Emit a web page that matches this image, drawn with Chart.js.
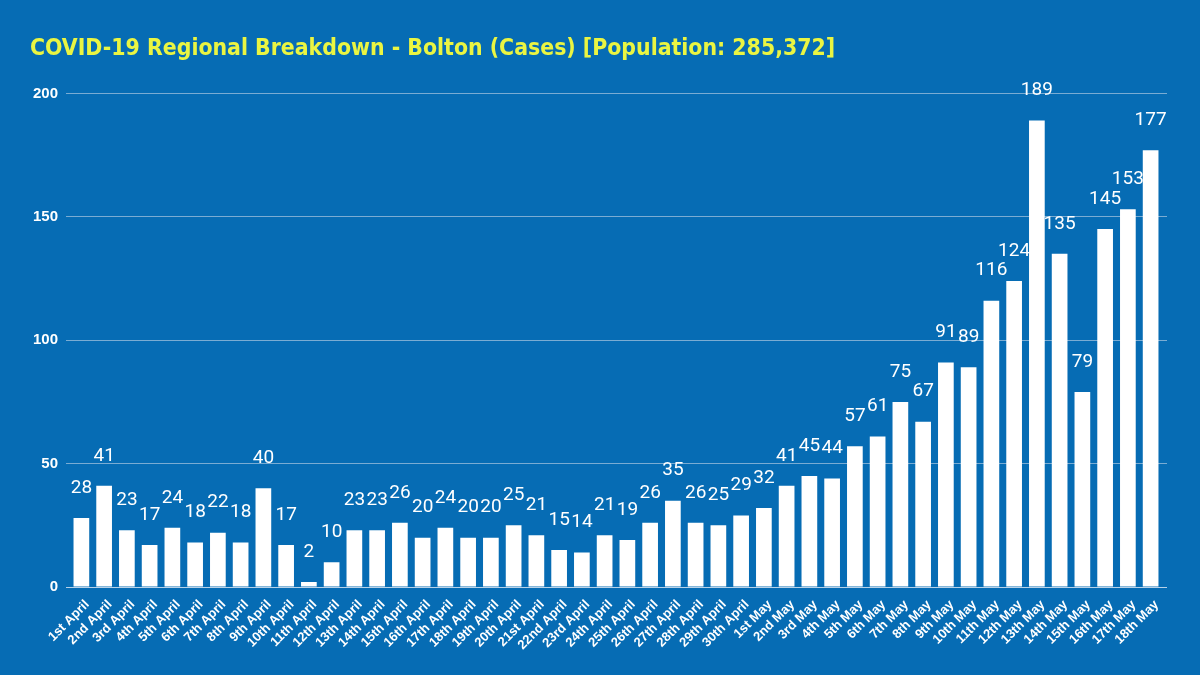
<!DOCTYPE html>
<html>
<head>
<meta charset="utf-8">
<script src="https://cdn.jsdelivr.net/npm/chart.js@4"></script>
<style>
  html, body { margin: 0; padding: 0; background: #066cb4; }
  #wrap { width: 1200px; height: 675px; }
</style>
</head>
<body>
<div id="wrap"><canvas id="bar-chart" width="1200" height="675"></canvas></div>
<script>
var days = ["1st April","2nd April","3rd April","4th April","5th April","6th April","7th April","8th April","9th April","10th April",
  "11th April","12th April","13th April","14th April","15th April","16th April","17th April","18th April","19th April","20th April",
  "21st April","22nd April","23rd April","24th April","25th April","26th April","27th April","28th April","29th April","30th April",
  "1st May","2nd May","3rd May","4th May","5th May","6th May","7th May","8th May","9th May","10th May",
  "11th May","12th May","13th May","14th May","15th May","16th May","17th May","18th May"];
var cases = [28,41,23,17,24,18,22,18,40,17,2,10,23,23,26,20,24,20,20,25,21,15,14,21,19,26,35,26,25,29,
  32,41,45,44,57,61,75,67,91,89,116,124,189,135,79,145,153,177];
var yTicks = [0,50,100,150,200];

// numbers over each bar
var valueLabels = {
  id: 'valueLabels',
  afterDatasetsDraw: function(chart) {
    var ctx = chart.ctx;
    var meta = chart.getDatasetMeta(0);
    ctx.save();
    ctx.fillStyle = '#ffffff';
    ctx.font = '19px Roboto';
    ctx.textAlign = 'center';
    ctx.textBaseline = 'middle';
    meta.data.forEach(function(bar, i) {
      ctx.fillText(cases[i], bar.x, bar.y - 30);
    });
    ctx.restore();
  }
};

function gridColor(c) {
  return c.tick && c.tick.value === 0 ? 'rgba(215,228,242,0.85)' : 'rgba(200,215,232,0.6)';
}
function setTicks(axis) {
  axis.ticks = yTicks.map(function(v) { return { value: v }; });
}

new Chart(document.getElementById("bar-chart"), {
  type: 'bar',
  data: {
    labels: days,
    datasets: [{
      label: "Cases",
      backgroundColor: "#ffffff",
      data: cases,
      barPercentage: 0.69,
      categoryPercentage: 1
    }]
  },
  plugins: [valueLabels],
  options: {
    responsive: false,
    animation: false,
    layout: { padding: { left: 30, right: 33, top: 0, bottom: 20 } },
    plugins: {
      legend: { display: false },
      tooltip: { enabled: false },
      title: {
        display: true,
        text: 'COVID-19 Regional Breakdown - Bolton (Cases) [Population: 285,372]',
        align: 'start',
        color: '#eaf542',
        font: { family: 'DejaVu Sans Condensed', size: 22.8, weight: 'bold' },
        padding: { top: 35, bottom: 31 }
      }
    },
    scales: {
      x: {
        grid: { display: false },
        border: { display: false },
        ticks: {
          color: '#ffffff',
          font: { family: 'Liberation Sans', size: 13, weight: 'bold' },
          minRotation: 45,
          maxRotation: 45,
          autoSkip: false,
          labelOffset: 6,
          padding: 2
        }
      },
      y: {
        min: 0,
        max: 200,
        afterBuildTicks: setTicks,
        afterFit: function(axis) { axis.width = 40; },
        grid: { color: gridColor, tickLength: 4 },
        border: { display: false },
        ticks: {
          color: '#ffffff',
          font: { family: 'Liberation Sans', size: 15, weight: 'bold' },
          padding: 8
        }
      },
      y2: {
        position: 'right',
        min: 0,
        max: 200,
        afterBuildTicks: setTicks,
        grid: { color: gridColor, drawOnChartArea: false, tickLength: 5 },
        border: { display: false },
        ticks: { display: false }
      }
    }
  }
});
</script>
</body>
</html>
